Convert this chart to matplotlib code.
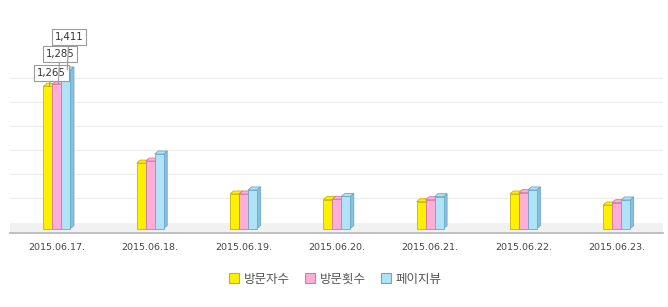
import matplotlib
matplotlib.use("Agg")
import matplotlib.pyplot as plt
from matplotlib.patches import Polygon, Patch
from matplotlib.transforms import IdentityTransform, ScaledTranslation
import numpy as np

plt.rcParams['font.family'] = ['Noto Sans CJK KR', 'DejaVu Sans']

categories = ['2015.06.17.', '2015.06.18.', '2015.06.19.', '2015.06.20.',
              '2015.06.21.', '2015.06.22.', '2015.06.23.']
series_names = ['방문자수', '방문횟수', '페이지뷰']
visitors = [1265, 582, 307, 258, 238, 307, 209]
visits = [1285, 600, 307, 260, 256, 319, 230]
pageviews = [1411, 663, 343, 285, 283, 343, 254]
grid_values = [269, 482, 698, 912, 1123, 1336]

series = [visitors, visits, pageviews]
front_colors = ['#fff000', '#ffaed8', '#b0e2f8']
side_colors = ['#d6c600', '#e08cba', '#86c2de']
edge_colors = ['#c8b400', '#d07aa8', '#6ea6c6']

W, H = 668, 307
fig = plt.figure(figsize=(W / 100, H / 100), dpi=100)
ax = fig.add_axes([10.3 / W, (H - 233) / H, 653 / W, 233 / H])
ax.set_xlim(-0.5, len(categories) - 0.5)
ax.set_ylim(-40, 2033)
ax.axis('off')

# gridlines
for g in grid_values:
    ax.axhline(g, color='#ececec', lw=0.8, zorder=0)

# floor band and axis line
ax.axhspan(-35, 50, color='#f1f1f1', zorder=0.5, lw=0)
ax.axhline(-40, color='#b4b4b4', lw=1.2, zorder=1, clip_on=False)

bw = 9 / 93.3
x = np.arange(len(categories))
offsets = [-bw, 0, bw]
dx, dy = 3.5, 3.0

fig.canvas.draw()
T = ax.transData
for si, vals in enumerate(series):
    for xi, v in zip(x, vals):
        x0 = xi + offsets[si] - bw / 2
        x1 = x0 + bw
        (px0, py0), (px1, py1) = T.transform([(x0, 0), (x1, v)])
        side = Polygon([(px1, py0), (px1 + dx, py0 + dy), (px1 + dx, py1 + dy), (px1, py1)],
                       closed=True, transform=IdentityTransform(), facecolor=side_colors[si],
                       edgecolor=edge_colors[si], lw=0.6, zorder=2 + si, clip_on=False)
        top = Polygon([(px0, py1), (px0 + dx, py1 + dy), (px1 + dx, py1 + dy), (px1, py1)],
                      closed=True, transform=IdentityTransform(), facecolor=front_colors[si],
                      edgecolor=edge_colors[si], lw=0.6, zorder=2 + si, clip_on=False)
        ax.add_patch(side)
        ax.add_patch(top)
    ax.bar(x + offsets[si], vals, width=bw, color=front_colors[si],
           edgecolor=edge_colors[si], lw=0.6, zorder=2.5 + si)

# category labels
for xi, c in zip(x, categories):
    ax.text(xi, -40, c, ha='center', va='top', fontsize=6.8, color='#444444',
            family=['DejaVu Sans'],
            transform=T + ScaledTranslation(0, -10 / 100, fig.dpi_scale_trans))

# value labels for max of each series
label_offsets = [(2, 8), (1.5, 25), (1.5, 28)]
for si, vals in enumerate(series):
    i = int(np.argmax(vals))
    v = vals[i]
    ax.annotate(f'{v:,}', xy=(x[i] + offsets[si] + bw * 0.15, v), xytext=label_offsets[si],
                textcoords='offset pixels', xycoords='data', ha='center', va='bottom',
                fontsize=7.3, color='#333333', family=['DejaVu Sans'],
                bbox=dict(boxstyle='square,pad=0.28', fc='white', ec='#9a9a9a', lw=0.8),
                arrowprops=dict(arrowstyle='-', color='#9a9a9a', lw=0.8, shrinkA=0, shrinkB=0),
                zorder=10)

handles = [Patch(facecolor=front_colors[i], edgecolor=edge_colors[i], lw=0.8) for i in range(3)]
fig.legend(handles, series_names, loc='center', bbox_to_anchor=(0.502, (H - 279) / H), ncol=3,
           frameon=False, fontsize=9, handlelength=0.8, handleheight=0.8, handletextpad=0.4,
           columnspacing=1.2, labelcolor='#555555')

fig.savefig('out.png', dpi=100)
